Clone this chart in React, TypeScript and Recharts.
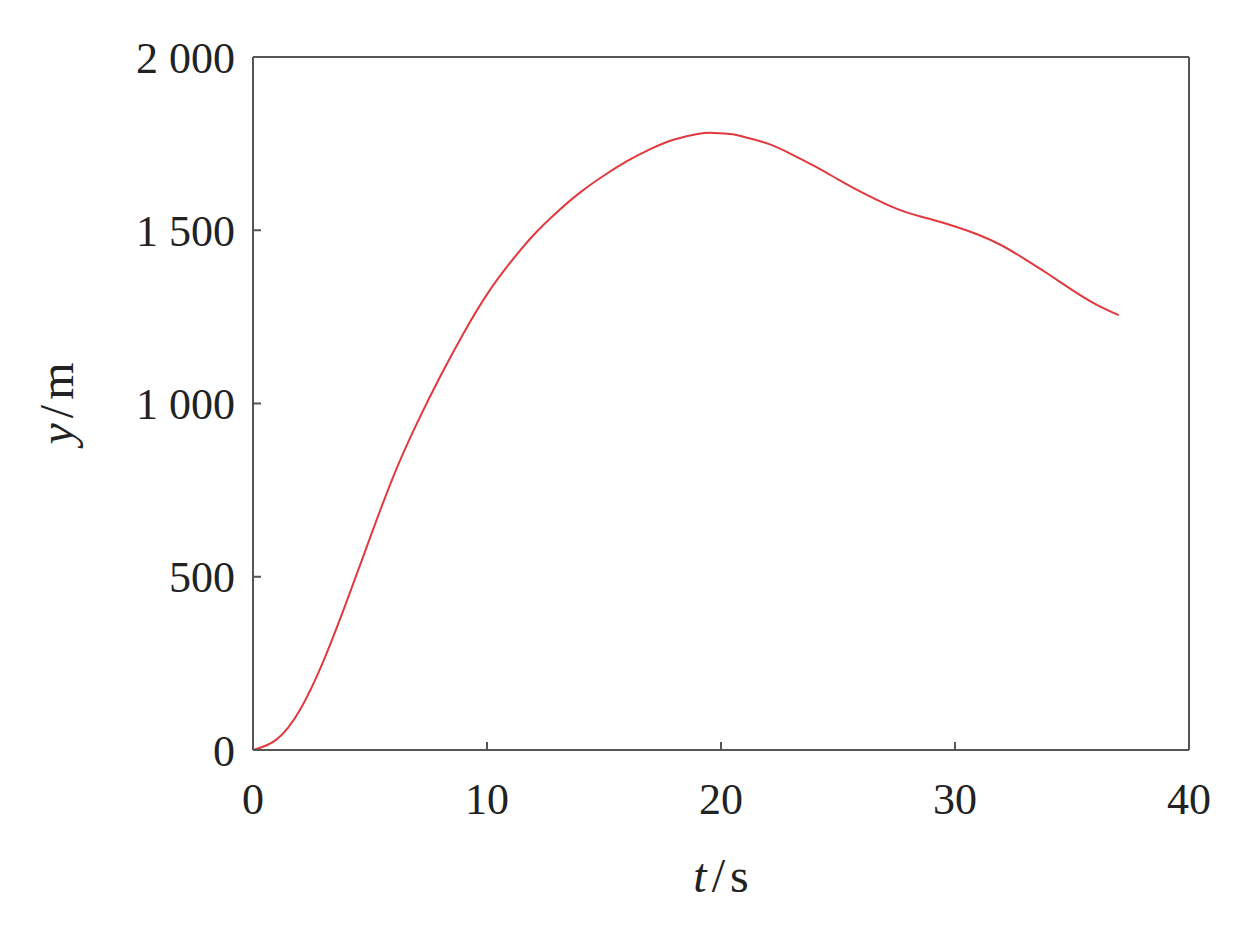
import { LineChart, Line, XAxis, YAxis, Label, ReferenceLine } from 'recharts';

const times = [0, 1, 2, 3, 4, 5, 6, 7, 8, 9, 10, 11, 12, 13, 14, 15, 16, 17, 18, 19, 19.7, 20.5, 21, 22, 23, 24, 25, 26, 27, 28, 29, 30, 31, 32, 33, 34, 35, 36, 37];
const heights = [0, 30, 115, 255, 428, 612, 790, 942, 1078, 1203, 1315, 1407, 1487, 1553, 1610, 1658, 1700, 1735, 1762, 1778, 1781, 1777, 1769, 1750, 1720, 1685, 1647, 1610, 1577, 1550, 1531, 1511, 1487, 1456, 1416, 1373, 1328, 1287, 1255];
const xTicks = [0, 10, 20, 30, 40];
const yTicks = [0, 500, 1000, 1500, 2000];

const data = times.map((t, i) => ({ t, y: heights[i] }));

const FONT = '"Liberation Serif", "Times New Roman", serif';
const AXIS = '#555';
const TEXT = '#222';

const fmtY = (v: number) => (v >= 1000 ? `${Math.floor(v / 1000)} ${String(v % 1000).padStart(3, '0')}` : String(v));

const XTitle = (props: any) => {
  const vb = props.viewBox;
  const cx = vb.x + vb.width / 2;
  return (
    <text x={cx} y={vb.y + 142} textAnchor="middle" fontFamily={FONT} fontSize={48} fill={TEXT}>
      <tspan fontStyle="italic">t</tspan>
      <tspan dx={5}>/</tspan>
      <tspan dx={5}>s</tspan>
    </text>
  );
};

const YTitle = (props: any) => {
  const vb = props.viewBox;
  const cx = 65;
  const cy = vb.y + vb.height / 2;
  return (
    <text x={cx} y={cy} textAnchor="middle" fontFamily={FONT} fontSize={48} fill={TEXT} transform={`rotate(-90, ${cx}, ${cy})`}>
      <tspan fontStyle="italic">y</tspan>
      <tspan dx={5}>/</tspan>
      <tspan dx={5}>m</tspan>
    </text>
  );
};

export default function App() {
  return (
    <LineChart width={1228} height={900} data={data} margin={{ top: 49, right: 47, bottom: 0, left: 0 }}>
      <XAxis
        dataKey="t"
        type="number"
        domain={[0, 40]}
        ticks={xTicks}
        height={158}
        tickSize={-8}
        tickMargin={41}
        axisLine={{ stroke: AXIS, strokeWidth: 2 }}
        tickLine={{ stroke: AXIS, strokeWidth: 2 }}
        tick={{ fill: TEXT, fontFamily: FONT, fontSize: 44 }}
      >
        <Label content={XTitle} />
      </XAxis>
      <YAxis
        type="number"
        domain={[0, 2000]}
        ticks={yTicks}
        width={245}
        tickSize={-8}
        tickMargin={26}
        tickFormatter={fmtY}
        axisLine={{ stroke: AXIS, strokeWidth: 2 }}
        tickLine={{ stroke: AXIS, strokeWidth: 2 }}
        tick={{ fill: TEXT, fontFamily: FONT, fontSize: 44 }}
      >
        <Label content={YTitle} />
      </YAxis>
      <ReferenceLine y={2000} stroke={AXIS} strokeWidth={2} />
      <ReferenceLine x={40} stroke={AXIS} strokeWidth={2} />
      <Line
        type="natural"
        dataKey="y"
        stroke="#e0393e"
        strokeWidth={2}
        dot={false}
        isAnimationActive={false}
      />
    </LineChart>
  );
}
